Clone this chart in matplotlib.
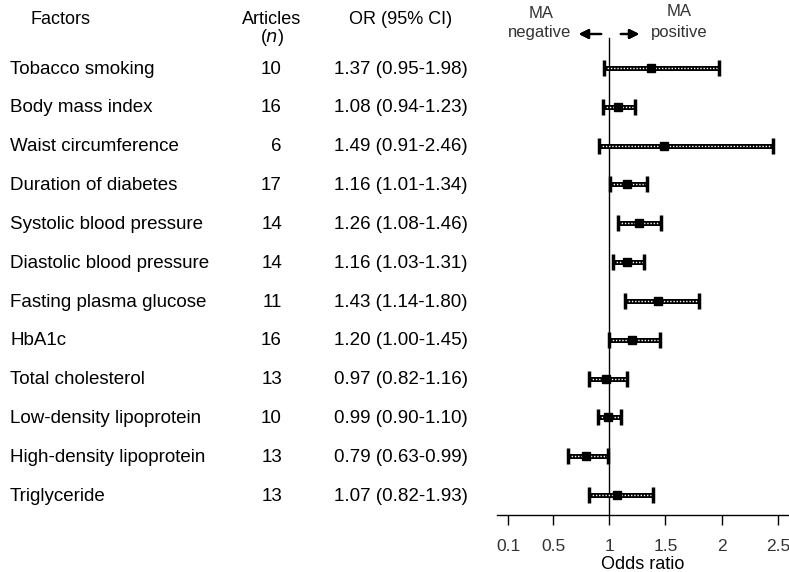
import matplotlib.pyplot as plt
from matplotlib.transforms import blended_transform_factory

factors = ["Tobacco smoking", "Body mass index", "Waist circumference",
           "Duration of diabetes", "Systolic blood pressure",
           "Diastolic blood pressure", "Fasting plasma glucose", "HbA1c",
           "Total cholesterol", "Low-density lipoprotein",
           "High-density lipoprotein", "Triglyceride"]
articles = [10, 16, 6, 17, 14, 14, 11, 16, 13, 10, 13, 13]
or_labels = ["1.37 (0.95-1.98)", "1.08 (0.94-1.23)", "1.49 (0.91-2.46)",
             "1.16 (1.01-1.34)", "1.26 (1.08-1.46)", "1.16 (1.03-1.31)",
             "1.43 (1.14-1.80)", "1.20 (1.00-1.45)", "0.97 (0.82-1.16)",
             "0.99 (0.90-1.10)", "0.79 (0.63-0.99)", "1.07 (0.82-1.93)"]
# values as drawn on the plot
or_vals = [1.37, 1.08, 1.49, 1.16, 1.26, 1.16, 1.43, 1.20, 0.97, 0.99, 0.79, 1.07]
ci_low = [0.95, 0.94, 0.91, 1.01, 1.08, 1.03, 1.14, 1.00, 0.82, 0.90, 0.63, 0.82]
ci_high = [1.98, 1.23, 2.46, 1.34, 1.46, 1.31, 1.80, 1.45, 1.16, 1.10, 0.99, 1.39]
xticks = [0.1, 0.5, 1, 1.5, 2, 2.5]
xtick_labels = ["0.1", "0.5", "1", "1.5", "2", "2.5"]

plt.rcParams["font.family"] = ["Liberation Sans", "DejaVu Sans"]
W, H = 789, 572
fig = plt.figure(figsize=(W / 100, H / 100), dpi=100)

# forest plot axes in pixel layout
left, right, top, bottom = 497, 789, 0, 515
ax = fig.add_axes([left / W, 1 - bottom / H, (right - left) / W, (bottom - top) / H])
row0, row_last = 68, 495
step = (row_last - row0) / (len(factors) - 1)
ax.set_xlim(0, 2.6)
ax.set_ylim((len(factors) - 1) + (bottom - row_last) / step, -row0 / step)

for s in ["top", "right", "left"]:
    ax.spines[s].set_visible(False)
ax.spines["bottom"].set_linewidth(1.0)
ax.set_yticks([])
ax.set_xticks(xticks)
ax.set_xticklabels(xtick_labels, fontsize=12.5, color="#333333")
ax.tick_params(axis="x", direction="out", length=7, width=1, pad=10)
ax.set_xlabel("Odds ratio", fontsize=13, labelpad=2)

ys = list(range(len(factors)))
ax.plot([1, 1], [ax.get_ylim()[0], -row0 / step + 38 / step], color="black", lw=1, clip_on=False)

for y, lo, hi, v in zip(ys, ci_low, ci_high, or_vals):
    ax.plot([lo, hi], [y, y], color="black", lw=3.6, solid_capstyle="butt", zorder=3)
    ax.plot([lo, hi], [y, y], color="white", lw=1.0, linestyle=(0, (1, 1.3)), zorder=4)
    ax.plot([lo, hi], [y, y], marker="|", markersize=12, mew=2.5, color="black",
            linestyle="none", zorder=5)
    ax.plot([v], [y], marker="s", markersize=5.5, color="black", zorder=6)

# table columns
tr = blended_transform_factory(fig.transFigure, ax.transData)
fs = 13.5
for y, name, n, lab in zip(ys, factors, articles, or_labels):
    ax.text(10 / W, y + 0.03, name, transform=tr, fontsize=fs, va="center", ha="left", clip_on=False)
    ax.text(282 / W, y + 0.03, str(n), transform=tr, fontsize=fs, va="center", ha="right", clip_on=False)
    ax.text(334 / W, y + 0.03, lab, transform=tr, fontsize=fs, va="center", ha="left", clip_on=False)

fig.text(60 / W, 1 - 19 / H, "Factors", fontsize=13, ha="center", va="center")
fig.text(272 / W, 1 - 19 / H, "Articles", fontsize=13, ha="center", va="center")
fig.text(272 / W, 1 - 37 / H, "($n$)", fontsize=13, ha="center", va="center")
fig.text(401 / W, 1 - 19 / H, "OR (95% CI)", fontsize=13, ha="center", va="center")

# direction labels
fig.text(541 / W, 1 - 13 / H, "MA", fontsize=12, ha="center", va="center", color="#333333")
fig.text(540 / W, 1 - 33 / H, "negative", fontsize=12, ha="center", va="center", color="#333333")
fig.text(679 / W, 1 - 11 / H, "MA", fontsize=12, ha="center", va="center", color="#333333")
fig.text(679 / W, 1 - 32 / H, "positive", fontsize=12, ha="center", va="center", color="#333333")
arrow = dict(arrowstyle="-|>", color="black", lw=1.6, mutation_scale=14)
fig.add_artist(plt.annotate("", xy=(576 / W, 1 - 34 / H), xytext=(604 / W, 1 - 34 / H),
                            xycoords="figure fraction", arrowprops=arrow))
fig.add_artist(plt.annotate("", xy=(642 / W, 1 - 34 / H), xytext=(618 / W, 1 - 34 / H),
                            xycoords="figure fraction", arrowprops=arrow))

fig.savefig("out.png", dpi=100)
